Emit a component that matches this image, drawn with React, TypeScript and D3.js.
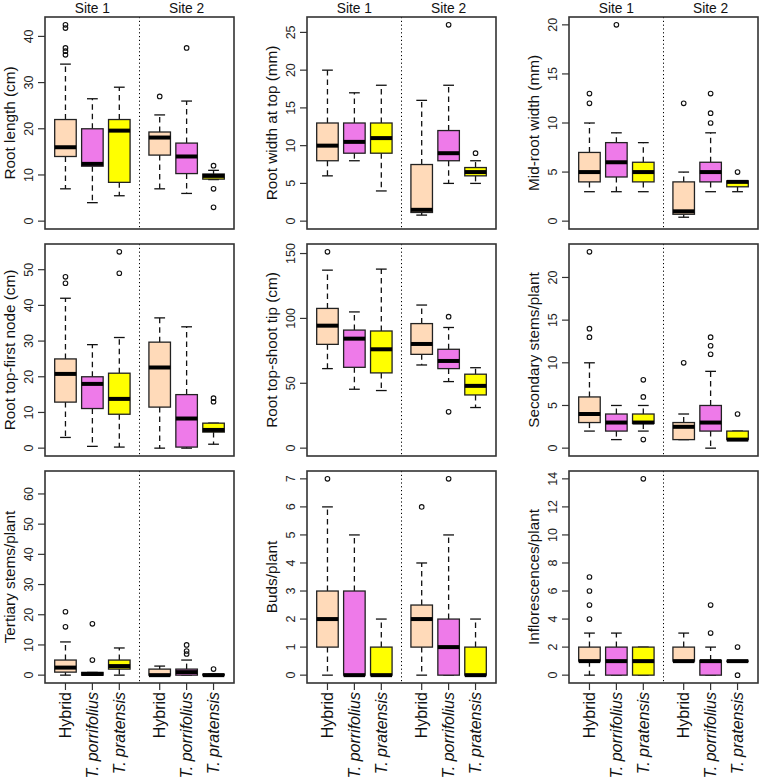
import React from "react";
import * as d3 from "d3";

// ---- Data (per box: [lowerWhisker, Q1, median, Q3, upperWhisker, outliers]) ----
// order: Site1 Hybrid, Site1 T. porrifolius, Site1 T. pratensis, Site2 Hybrid, Site2 T. porrifolius, Site2 T. pratensis
const groups = ["Hybrid", "T. porrifolius", "T. pratensis"];
const sites = ["Site 1", "Site 2"];

const rootLength: any[] = [
  [7, 14, 16, 22, 34, [42.5, 41.8, 37.5, 36.8, 36.0]],
  [4, 11.9, 12.4, 20, 26.5, []],
  [5.5, 8.4, 19.6, 22, 29, []],
  [7, 14.3, 18.1, 19.3, 23, [27]],
  [6, 10.3, 14, 16.9, 26, [37.5]],
  [9, 9.1, 9.8, 10.2, 11, [12, 7, 3]],
];
const rootWidthTop: any[] = [
  [6, 8, 10, 13, 20, []],
  [8, 9, 10.5, 13, 17, []],
  [4, 9, 11, 13, 18, []],
  [0.8, 1.15, 1.5, 7.5, 16, []],
  [5, 8, 9, 12, 18, [26]],
  [5, 6, 6.5, 7.1, 8, [9]],
];
const midRootWidth: any[] = [
  [3, 4, 5, 7, 10, [13, 12]],
  [3, 4.5, 6, 8, 9, [20]],
  [3, 4, 5, 6, 8, []],
  [0.4, 0.7, 1.0, 4, 5, [12]],
  [3, 4, 5, 6, 9, [13, 11, 10]],
  [3, 3.5, 4, 4.1, 4.1, [5]],
];
const rootTopFirstNode: any[] = [
  [3, 12.9, 20.8, 25, 42, [48, 46.2]],
  [0.5, 11.1, 18, 20, 29, []],
  [0.3, 9.5, 13.8, 21, 31, [55, 49]],
  [0, 11.5, 22.6, 29.7, 36.5, []],
  [0, 0.3, 8.3, 15, 34, []],
  [1.1, 4.5, 5.1, 7, 7, [14, 13]],
];
const rootTopShootTip: any[] = [
  [61.3, 80, 94.4, 107.7, 137.2, [151.3]],
  [45.4, 62.3, 84.4, 91, 105, []],
  [44.4, 58, 76.2, 90.3, 138, []],
  [64.1, 72.3, 80.3, 96, 110.3, []],
  [51.3, 61.3, 67.2, 76.2, 93, [101.3, 28]],
  [31.3, 41, 48, 57, 62, []],
];
const secondaryStems: any[] = [
  [2, 3, 4, 6, 10, [23, 14, 13]],
  [1, 2, 3, 4, 5, []],
  [2, 2.9, 3, 4, 5, [8, 6, 1]],
  [1, 1, 2.5, 3, 4, [10]],
  [0, 2, 3, 5, 9, [13, 12, 11]],
  [1, 1, 1, 2, 2, [4]],
];
const tertiaryStems: any[] = [
  [0, 1, 2.5, 5, 11, [21, 16]],
  [0, 0, 0.4, 0.9, 0.9, [17, 5]],
  [0, 2, 3, 5, 9, []],
  [0, 0, 0, 2, 3, []],
  [0, 0, 1, 2, 5, [10, 8, 7]],
  [0, 0, 0, 0.3, 0.3, [2]],
];
const budsPerPlant: any[] = [
  [0, 1, 2, 3, 6, [7]],
  [0, 0, 0, 3, 5, []],
  [0, 0, 0, 1, 2, []],
  [0, 1, 2, 2.5, 4, [6]],
  [0, 0, 1, 2, 5, [7]],
  [0, 0, 0, 1, 2, []],
];
const inflorescences: any[] = [
  [0, 1, 1, 2, 3, [4, 5, 6, 7]],
  [0, 0, 1, 2, 3, []],
  [0, 0, 1, 2, 2, [14]],
  [1, 1, 1, 2, 3, []],
  [0, 0, 1, 1.05, 2, [3, 5]],
  [1, 1, 1, 1, 1, [2, 0]],
];

const panelLabels = [
  "Root length (cm)", "Root width at top (mm)", "Mid-root width (mm)",
  "Root top-first node (cm)", "Root top-shoot tip (cm)", "Secondary stems/plant",
  "Tertiary stems/plant", "Buds/plant", "Inflorescences/plant",
];
const panelData = [
  rootLength, rootWidthTop, midRootWidth,
  rootTopFirstNode, rootTopShootTip, secondaryStems,
  tertiaryStems, budsPerPlant, inflorescences,
];
const panelMax = [42.5, 26, 20, 55, 151.3, 23, 65, 7, 14];
const panelTicks = [
  [0, 10, 20, 30, 40],
  [0, 5, 10, 15, 20, 25],
  [0, 5, 10, 15, 20],
  [0, 10, 20, 30, 40, 50],
  [0, 50, 100, 150],
  [0, 5, 10, 15, 20],
  [0, 10, 20, 30, 40, 50, 60],
  [0, 1, 2, 3, 4, 5, 6, 7],
  [0, 2, 4, 6, 8, 10, 12, 14],
];

const boxPositions = [1, 2, 3, 4.5, 5.5, 6.5];
const separatorPos = 3.75;
const sitePositions = [2, 5.5];
const fillColors = ["#FFDAB9", "#EE7AE9", "#FFFF00"];

const FONT = "Liberation Sans, Arial, Helvetica, sans-serif";
const colLefts = [45, 307, 569];
const rowTops = [17, 244, 471];
const PW = 189;
const PH = 212;

function Panel({ idx }: { idx: number }) {
  const col = idx % 3;
  const row = Math.floor(idx / 3);
  const left = colLefts[col];
  const top = rowTops[row];
  const right = left + PW;
  const bottom = top + PH;
  const max = panelMax[idx];
  const x = d3.scaleLinear().domain([0.24, 7.26]).range([left, right]);
  const y = d3.scaleLinear().domain([-0.04 * max, 1.04 * max]).range([bottom, top]);
  const bw = (x(1.4) - x(1)) as number;
  const sw = (x(1.2) - x(1)) as number;
  const data = panelData[idx];
  return (
    <g>
      <line x1={x(separatorPos)} x2={x(separatorPos)} y1={top} y2={bottom}
        stroke="#000" strokeWidth={1} strokeDasharray="1.2,2.6" />
      {data.map((d: any, i: number) => {
        const cx = x(boxPositions[i]);
        const [lo, q1, med, q3, hi, outs] = d;
        const color = fillColors[i % 3];
        return (
          <g key={i}>
            {hi > q3 && (
              <line x1={cx} x2={cx} y1={y(q3)} y2={y(hi)} stroke="#111" strokeWidth={1.3} strokeDasharray="5.5,4" />
            )}
            {lo < q1 && (
              <line x1={cx} x2={cx} y1={y(q1)} y2={y(lo)} stroke="#111" strokeWidth={1.3} strokeDasharray="5.5,4" />
            )}
            <line x1={cx - sw} x2={cx + sw} y1={y(hi)} y2={y(hi)} stroke="#111" strokeWidth={1.3} />
            <line x1={cx - sw} x2={cx + sw} y1={y(lo)} y2={y(lo)} stroke="#111" strokeWidth={1.3} />
            <rect x={cx - bw} y={y(q3)} width={2 * bw} height={Math.max(0.01, y(q1) - y(q3))}
              fill={color} stroke="#222" strokeWidth={1.3} />
            <line x1={cx - bw} x2={cx + bw} y1={y(med)} y2={y(med)} stroke="#000" strokeWidth={4} />
            {outs.map((o: number, j: number) => (
              <circle key={j} cx={cx} cy={y(o)} r={2.3} fill="none" stroke="#111" strokeWidth={1.1} />
            ))}
          </g>
        );
      })}
      <rect x={left} y={top} width={PW} height={PH} fill="none" stroke="#333" strokeWidth={1.6} />
      {panelTicks[idx].map((t) => (
        <g key={t}>
          <line x1={left - 7} x2={left} y1={y(t)} y2={y(t)} stroke="#333" strokeWidth={1.2} />
          <text transform={`translate(${left - 12},${y(t)}) rotate(-90)`} textAnchor="middle"
            fontFamily={FONT} fontSize={12.5} fill="#222">{t}</text>
        </g>
      ))}
      <text transform={`translate(${left - 30},${(top + bottom) / 2}) rotate(-90)`} textAnchor="middle"
        fontFamily={FONT} fontSize={15.3} fill="#111">{panelLabels[idx]}</text>
      {row === 0 && sites.map((s, k) => (
        <text key={s} x={x(sitePositions[k])} y={top - 4} textAnchor="middle"
          fontFamily={FONT} fontSize={13.8} fill="#111">{s}</text>
      ))}
      {row === 2 && boxPositions.map((p, i) => (
        <g key={i}>
          <line x1={x(p)} x2={x(p)} y1={bottom} y2={bottom + 7} stroke="#333" strokeWidth={1.2} />
          <text transform={`translate(${x(p)},${bottom + 9}) rotate(-90)`} textAnchor="end"
            dy="0.35em" fontFamily={FONT} fontSize={16} fill="#111"
            fontStyle={i % 3 === 0 ? "normal" : "italic"}>{groups[i % 3]}</text>
        </g>
      ))}
    </g>
  );
}

export default function App() {
  return (
    <svg width={760} height={778} style={{ position: "absolute", left: 0, top: 0, background: "#fff" }}>
      <rect width={760} height={778} fill="#fff" />
      {panelLabels.map((_, i) => <Panel key={i} idx={i} />)}
    </svg>
  );
}
